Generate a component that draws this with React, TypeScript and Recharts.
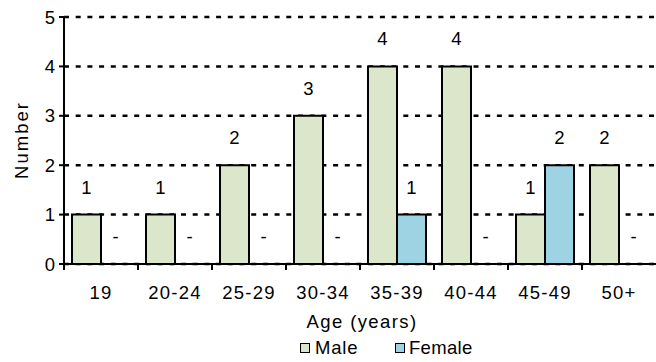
import React from 'react';
import { BarChart, Bar, XAxis, YAxis, CartesianGrid, LabelList, Legend, Label } from 'recharts';

const categories = ['19', '20-24', '25-29', '30-34', '35-39', '40-44', '45-49', '50+'];
const maleValues = [1, 1, 2, 3, 4, 4, 1, 2];
const femaleValues = [0, 0, 0, 0, 1, 0, 2, 0];
const yTicks = [0, 1, 2, 3, 4, 5];

const data = categories.map((c, i) => ({ age: c, Male: maleValues[i], Female: femaleValues[i] }));

const W = 656;
const H = 362;
const M = { top: 17, right: 0, bottom: 68, left: 0 };
const XAXIS_H = 30;
const YAXIS_W = 64;
const PLOT_W = W - M.left - M.right - YAXIS_W;
const AXIS_Y = H - M.bottom - XAXIS_H;
const BAND = PLOT_W / categories.length;
const FONT = 'Liberation Sans, Arial, Helvetica, sans-serif';
const FS = 18.5;
const LABEL_OFFSET = 21;
const MALE_COLOR = '#DCE6CB';
const FEMALE_COLOR = '#9DD3E3';

const XTick = (props: any) => {
  const { x, payload } = props;
  const left = x - BAND / 2;
  return (
    <g>
      <line x1={left} x2={left} y1={AXIS_Y} y2={AXIS_Y + 6} stroke="#000" strokeWidth={2} />
      <text x={x} y={AXIS_Y + 35} textAnchor="middle" style={{ fontFamily: FONT, fontSize: FS, letterSpacing: 1.2 }} fill="#000">
        {payload.value}
      </text>
    </g>
  );
};

const getBox = (props: any) => {
  const vb = props.viewBox && props.viewBox.width !== undefined ? props.viewBox : props;
  const x = Number(vb.x);
  const y = Number(vb.y);
  const w = Number(vb.width);
  const h = Number(vb.height) || 0;
  return { x, w, top: Math.min(y, y + h), bottom: Math.max(y, y + h) };
};

const labelText = (x: number, y: number, v: any, key?: string) => (
  <text key={key} x={x} y={y} textAnchor="middle" style={{ fontFamily: FONT, fontSize: FS }} fill="#000">
    {v}
  </text>
);

// Male label; also draws the "-" marker for a zero female value beside it
const MaleLabel = (props: any) => {
  const { x, w, top, bottom } = getBox(props);
  const idx = Number(props.index);
  const fv = femaleValues[idx];
  return (
    <g>
      {labelText(x + w / 2, top - LABEL_OFFSET, props.value, 'm')}
      {fv === 0 ? labelText(x + w * 1.5, bottom - LABEL_OFFSET, '-', 'f') : null}
    </g>
  );
};

const FemaleLabel = (props: any) => {
  const { x, w, top } = getBox(props);
  if (props.value === 0) return null;
  return labelText(x + w / 2, top - LABEL_OFFSET, props.value);
};

const LegendContent = () => (
  <div style={{ position: 'relative', width: W, height: 0, fontFamily: FONT, fontSize: FS, lineHeight: '20px', color: '#000' }}>
    <div style={{ position: 'absolute', left: 300, top: 5, width: 10, height: 10, boxSizing: 'border-box', border: '1.5px solid #000', background: MALE_COLOR }} />
    <span style={{ position: 'absolute', left: 315, top: 0, letterSpacing: 0.8, whiteSpace: 'nowrap' }}>Male</span>
    <div style={{ position: 'absolute', left: 395, top: 5, width: 10, height: 10, boxSizing: 'border-box', border: '1.5px solid #000', background: FEMALE_COLOR }} />
    <span style={{ position: 'absolute', left: 409, top: 0, letterSpacing: 0.3, whiteSpace: 'nowrap' }}>Female</span>
  </div>
);

export default function App() {
  return (
    <div style={{ position: 'absolute', left: 0, top: 0, width: W, height: H, background: '#fff', fontFamily: FONT }}>
      <BarChart width={W} height={H} data={data} margin={M} barCategoryGap={8} barGap={0} style={{ fontFamily: FONT }}>
        <CartesianGrid horizontal vertical={false} stroke="#000" strokeWidth={2.5} strokeDasharray="5 6.7" />
        <XAxis
          dataKey="age"
          height={XAXIS_H}
          axisLine={{ stroke: '#000', strokeWidth: 2 }}
          tickLine={false}
          tick={<XTick />}
          interval={0}
        >
          <Label
            content={() => (
              <text x={362} y={328} textAnchor="middle" style={{ fontFamily: FONT, fontSize: FS, letterSpacing: 1.4 }} fill="#000">
                Age (years)
              </text>
            )}
          />
        </XAxis>
        <YAxis
          width={YAXIS_W}
          domain={[0, 5]}
          ticks={yTicks}
          interval={0}
          axisLine={{ stroke: '#000', strokeWidth: 2 }}
          tickLine={{ stroke: '#000', strokeWidth: 2 }}
          tickSize={5}
          tickMargin={4}
          tick={{ fontFamily: FONT, fontSize: FS, fill: '#000' }}
        >
          <Label
            content={() => (
              <text x={28} y={140} transform="rotate(-90, 28, 140)" textAnchor="middle" style={{ fontFamily: FONT, fontSize: FS, letterSpacing: 2 }} fill="#000">
                Number
              </text>
            )}
          />
        </YAxis>
        <Legend content={<LegendContent />} height={0} wrapperStyle={{ position: 'absolute', left: 0, top: 338, width: W, height: 0 }} />
        <Bar dataKey="Male" fill={MALE_COLOR} stroke="#000" strokeWidth={2} isAnimationActive={false}>
          <LabelList dataKey="Male" content={<MaleLabel />} />
        </Bar>
        <Bar dataKey="Female" fill={FEMALE_COLOR} stroke="#000" strokeWidth={2} isAnimationActive={false}>
          <LabelList dataKey="Female" content={<FemaleLabel />} />
        </Bar>
      </BarChart>
    </div>
  );
}
